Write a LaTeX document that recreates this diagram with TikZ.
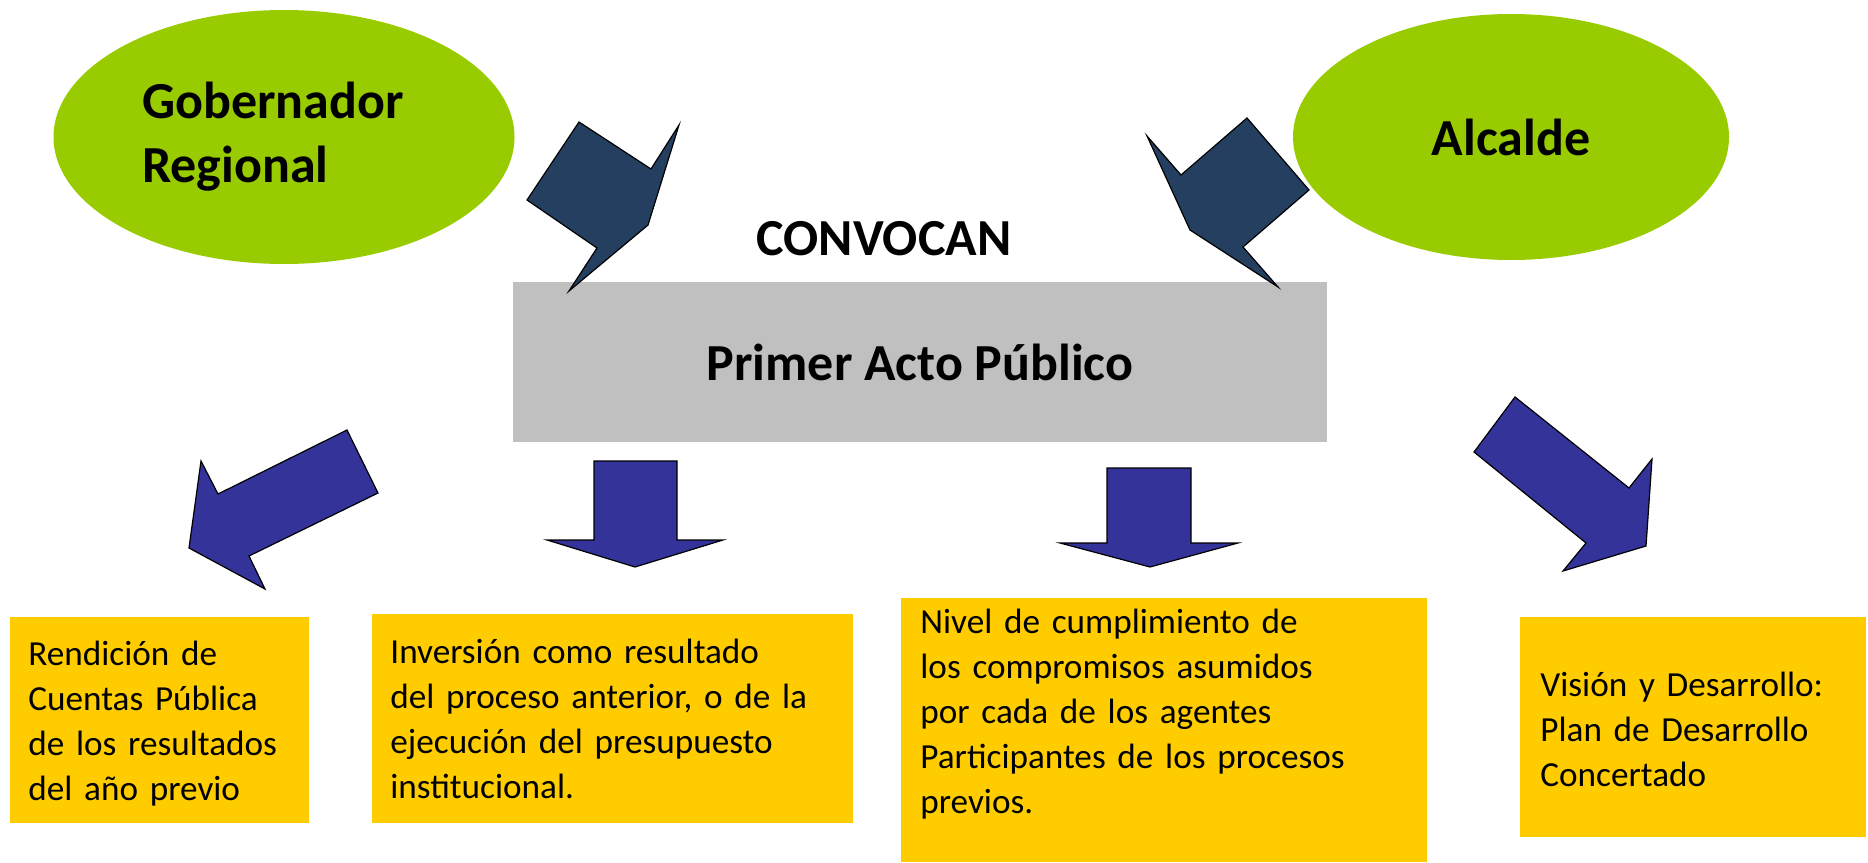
\documentclass[tikz,border=0pt]{standalone}
\usepackage{fontspec}
\setmainfont{Carlito}
\usepackage{xcolor}
\usepackage{tikz}
\usetikzlibrary{positioning,shapes}
\definecolor{leaf}{HTML}{99CC00}
\definecolor{gold}{HTML}{FFCC00}
\definecolor{stone}{HTML}{C0C0C0}
\definecolor{navy}{HTML}{243F60}
\definecolor{indigo}{HTML}{333399}
\tikzstyle{actor}=[ellipse, fill=leaf, text=black, font=\fontsize{26}{32}\selectfont\bfseries]
\tikzstyle{topic}=[rectangle, fill=gold, anchor=north west, inner sep=0pt]
\tikzstyle{topictext}=[anchor=base west, inner sep=0pt, text width=300pt, align=left,
        font=\fontsize{17.6}{22.5}\selectfont]
\tikzstyle{convoke}=[fill=navy, draw=black, line width=0.6pt]
\tikzstyle{outcome}=[fill=indigo, draw=black, line width=0.6pt]

\begin{document}
\begin{tikzpicture}[x=0.5pt, y=-0.5pt, node distance=12.5pt]
        \useasboundingbox (0,0) rectangle (1868,862);
        \node (Acto) [rectangle, fill=stone, minimum width=407pt, minimum height=80pt,
          font=\fontsize{26}{32}\selectfont\bfseries] at (920,362) {Primer Acto Público};
        \node (Convocan) [above=of Acto, xshift=-18pt, inner sep=0pt,
          font=\fontsize{26}{32}\selectfont\bfseries] {CONVOCAN};
        \draw [convoke] (579,122) -- (651,169) -- (679,125) -- (648,225) -- (569,291) -- (597,248) -- (527,200) -- cycle;
        \draw [convoke] (1247,118) -- (1309,190) -- (1243,247) -- (1278,287) -- (1190,230) -- (1147,136) -- (1181,175) -- cycle;
        \node (Gobernador) [actor, minimum width=230.5pt, minimum height=127pt, text width=142pt, align=left] at (284,137)
        {
          Gobernador\\Regional
        };
        \node (Alcalde) [actor, minimum width=218pt, minimum height=123pt] at (1511,137) {Alcalde};
        \draw [outcome] (347,430) -- (378,493) -- (249,556) -- (265,589) -- (189,548) -- (201,461) -- (218,494) -- cycle;
        \draw [outcome] (594,461) -- (677,461) -- (677,540) -- (723,540) -- (635,567) -- (547,540) -- (594,540) -- cycle;
        \draw [outcome] (1107,468) -- (1191,468) -- (1191,543) -- (1238,543) -- (1150,567) -- (1060,543) -- (1107,543) -- cycle;
        \draw [outcome] (1515,397) -- (1629,488) -- (1652,459) -- (1646,546) -- (1563,571) -- (1586,543) -- (1474,452) -- cycle;
        \node (Rendicion) [topic, minimum width=149.5pt, minimum height=103pt] at (10,617) {};
        \node (RendicionText) [topictext] at ([shift={(18,48)}]Rendicion.north west)
        {
          Rendición de\\Cuentas Pública\\de los resultados\\del año previo
        };
        \node (Inversion) [topic, minimum width=240.5pt, minimum height=104.5pt] at (372,614) {};
        \node (InversionText) [topictext] at ([shift={(18,49)}]Inversion.north west)
        {
          Inversión como resultado\\del proceso anterior, o de la\\ejecución del presupuesto\\institucional.
        };
        \node (Nivel) [topic, minimum width=263pt, minimum height=132pt] at (901,598) {};
        \node (NivelText) [topictext] at ([shift={(19,35)}]Nivel.north west)
        {
          Nivel de cumplimiento de\\los compromisos asumidos\\por cada de los agentes\\Participantes de los procesos\\previos.
        };
        \node (Vision) [topic, minimum width=173pt, minimum height=110pt] at (1520,617) {};
        \node (VisionText) [topictext] at ([shift={(20,79)}]Vision.north west)
        {
          Visión y Desarrollo:\\Plan de Desarrollo\\Concertado
        };
      \end{tikzpicture}
\end{document}
